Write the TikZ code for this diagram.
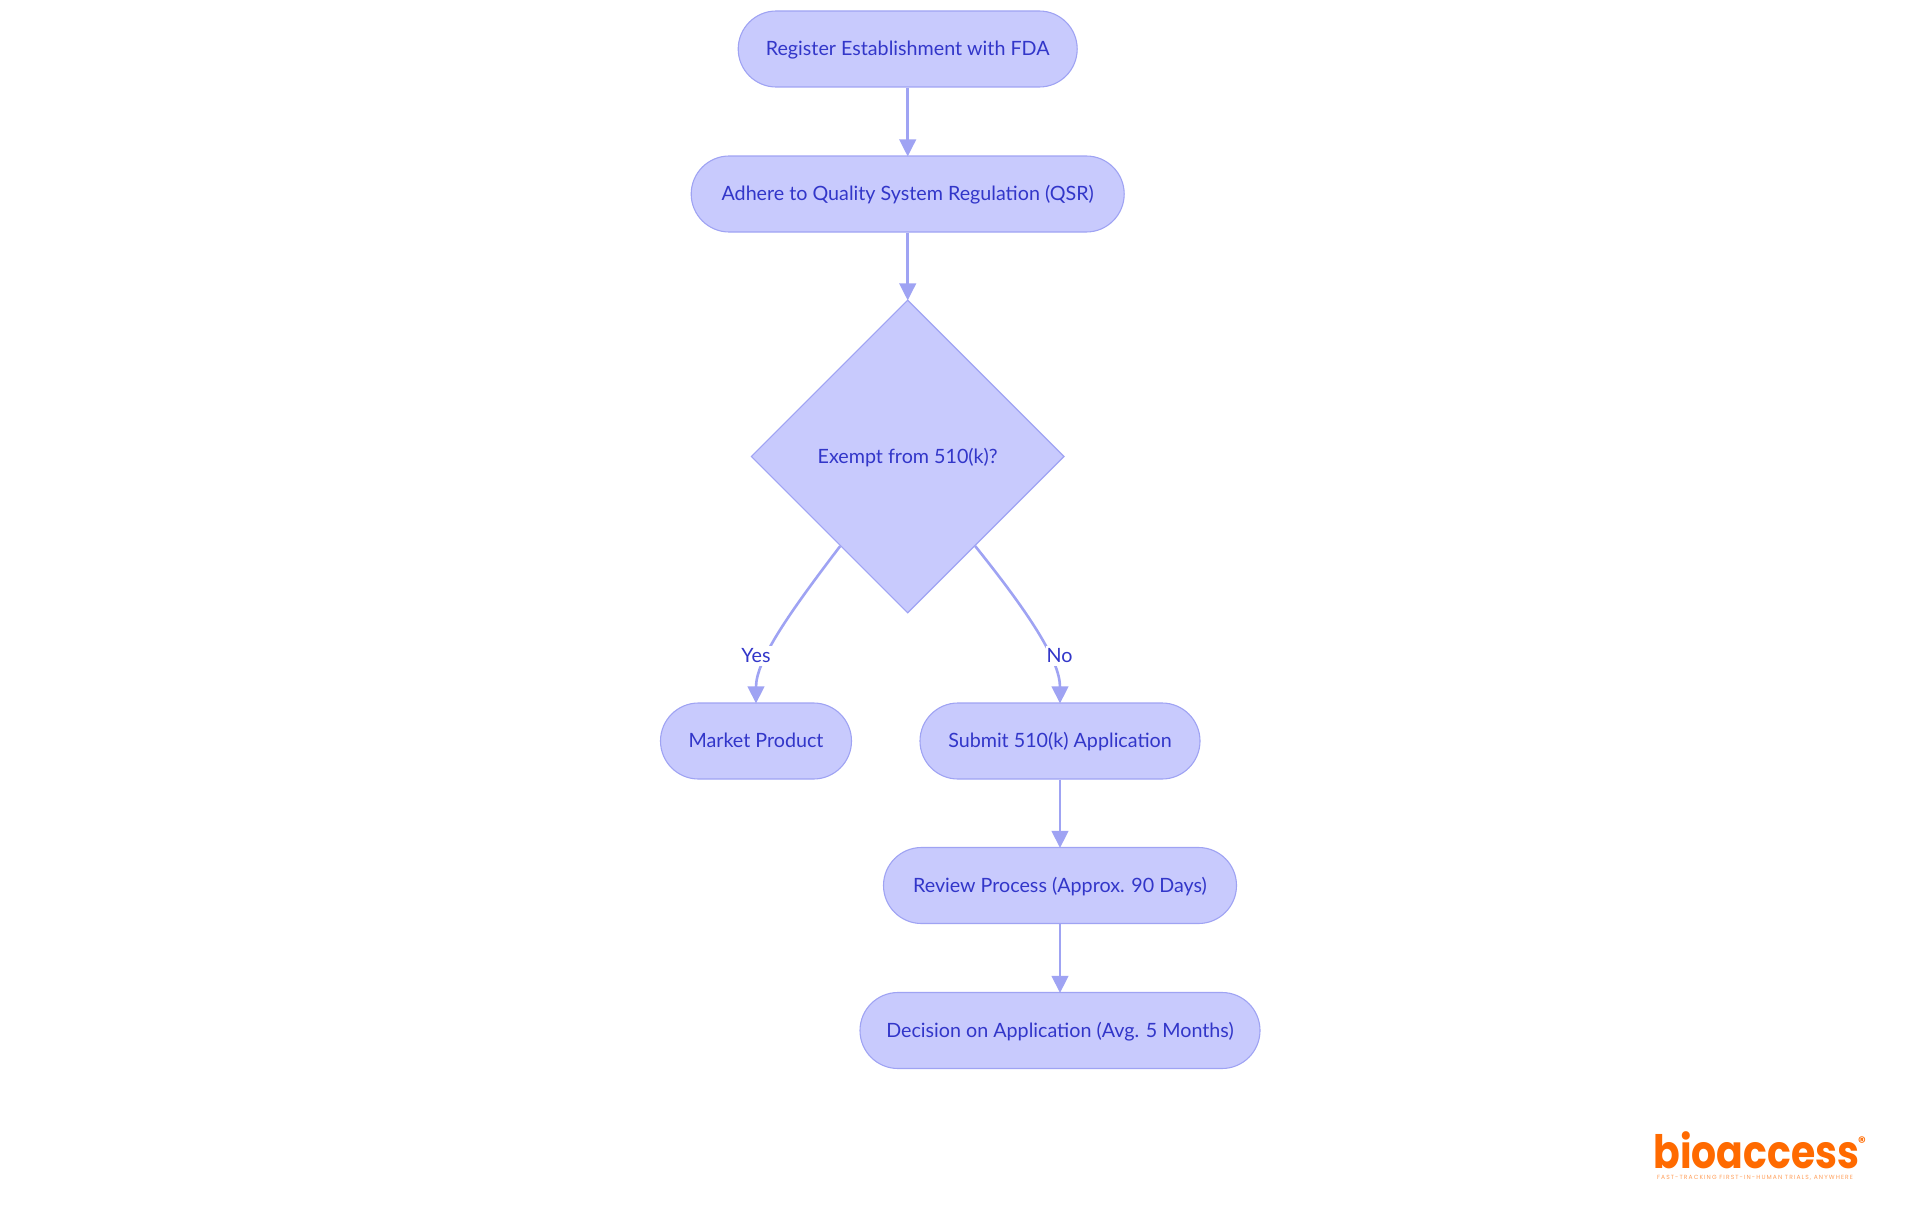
\documentclass[tikz,border=0pt]{standalone}
\usepackage{fontspec}
\setmainfont{Lato}
\newfontfamily\logofont{Poppins}
\newfontfamily\tagfont[LetterSpace=18]{Poppins}
\usetikzlibrary{arrows.meta,shapes.misc,shapes.geometric}
\definecolor{nodefill}{HTML}{C8CAFD}
\definecolor{nodeline}{HTML}{9FA3F3}
\definecolor{nodetext}{HTML}{3236C9}
\definecolor{logoorange}{HTML}{FF6A00}
\tikzset{
  base/.style={draw=nodeline,fill=nodefill,line width=1.1pt,text=nodetext,inner sep=0pt,text height=16pt,text depth=2.4pt,font=\fontsize{19.7}{24}\selectfont},
  stadium/.style={base,rounded rectangle,minimum height=76pt},
  decision/.style={base,diamond,aspect=1,minimum width=313pt,minimum height=313pt},
  edge/.style={draw=nodeline,line width=2.6pt,shorten >=-1pt,-{Triangle[length=17pt,width=16.5pt]}},
  edgelabel/.style={fill=white,text=nodetext,inner sep=1pt,text height=16pt,text depth=2.4pt,font=\fontsize{19.7}{24}\selectfont},
}
\begin{document}
\begin{tikzpicture}[x=1pt,y=-1pt]
\useasboundingbox (0,0) rectangle (1920,1215);
\node[stadium,minimum width=339pt] (reg) at (907.7,49) {Register Establishment with FDA};
\node[stadium,minimum width=433pt] (qsr) at (907.7,194) {Adhere to Quality System Regulation (QSR)};
\node[decision] (dec) at (907.7,456.5) {Exempt from 510(k)?};
\node[stadium,minimum width=191pt] (mkt) at (756,741) {Market Product};
\node[stadium,minimum width=280pt] (sub) at (1060,741) {Submit 510(k) Application};
\node[stadium,minimum width=353pt] (rev) at (1060,885.5) {Review Process (Approx. 90 Days)};
\node[stadium,minimum width=400pt] (dcs) at (1060,1030.5) {Decision on Application (Avg. 5 Months)};
\draw[edge] (reg.south) -- (qsr.north);
\draw[edge] (qsr.south) -- (dec.north);
\draw[edge] (dec.233.6) .. controls (790,612) and (756,660) .. (mkt.north);
\draw[edge] (dec.307.8) .. controls (1028,612) and (1060,660) .. (sub.north);
\draw[edge] (sub.south) -- (rev.north);
\draw[edge] (rev.south) -- (dcs.north);
\node[edgelabel] (yes) at (756,656) {Yes};
\node[edgelabel] (no) at (1059.5,656) {No};
\node[inner sep=0pt,text=logoorange,font=\logofont\bfseries\fontsize{46}{46}\selectfont] (logo) at (1756.5,1150) {\scalebox{0.855}[1]{bioaccess}};
\node[inner sep=0pt,text=logoorange,font=\logofont\bfseries\fontsize{15}{15}\selectfont] (mark) at (1862,1142) {®};
\node[inner sep=0pt,text=logoorange!65,font=\tagfont\fontsize{6}{8}\selectfont] (tag) at (1755,1177.5) {FAST-TRACKING FIRST-IN-HUMAN TRIALS, ANYWHERE};
\end{tikzpicture}
\end{document}
